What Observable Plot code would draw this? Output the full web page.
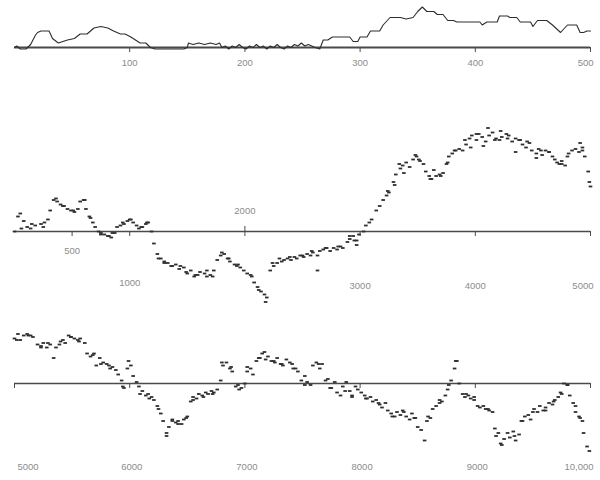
<!DOCTYPE html>
<html><head><meta charset="utf-8">
<script src="https://cdn.jsdelivr.net/npm/d3@7"></script>
<script src="https://cdn.jsdelivr.net/npm/@observablehq/plot@0.6"></script>
<style>
body{margin:0;background:#fff;}
#chart{width:600px;height:480px;overflow:hidden;}
#chart svg{display:block;}
</style></head><body><div id="chart"></div>
<script>
// ---- Top line: first 500 tossings (trial number, cumulative gain) ----
const topTrials = [0,2,5,10,14,18,20,23,30,33,38,42,46,52,57,63,69,75,81,86,92,96,101,105,109,114,118,122,130,135,140,147,150,151,155,160,165,170,175,178,180,183,186,189,192,195,198,201,204,207,210,213,216,219,222,225,228,231,234,237,240,243,246,249,252,255,258,261,265,268,272,276,284,291,294,298,300,306,309,317,320,326,335,340,346,350,354,358,364,367,372,376,381,384,404,406,410,419,421,428,430,436,439,441,448,450,454,462,467,474,480,488,491,494,497,500];
const topWalk = [0,1,-1,-1,2,8,10,11,11,6,3,4,5,6,9,9,13,14,13,11,9,9,7,5,3,3,0,-1,-1,-1,-1,-1,0,3,2,3,2,3,2,3,0,1,-1,1,0,2,0,-1,1,0,2,0,1,-1,1,0,2,0,-1,1,0,2,1,3,1,2,1,0,-1,5,5,7,7,7,4,4,7,7,11,11,15,20,20,19,20,24,27,24,24,22,22,18,18,17,17,15,17,17,21,21,20,20,17,17,17,14,18,18,15,10,15,15,10,10,11,11];
const topTicks = [100,200,300,400,500];

// ---- Middle line: trials 0 - 5000 ----
const midTrials = [0,30,50,80,110,140,180,230,250,290,310,340,370,400,430,460,490,520,550,570,600,620,650,680,700,730,750,780,820,840,870,890,920,950,980,1010,1030,1060,1080,1110,1140,1160,1190,1210,1240,1270,1300,1330,1360,1400,1430,1470,1500,1530,1560,1590,1610,1650,1670,1700,1730,1760,1790,1820,1850,1870,1910,1930,1960,1990,2020,2060,2080,2110,2140,2170,2190,2220,2250,2280,2320,2340,2370,2400,2430,2450,2480,2510,2540,2570,2590,2630,2650,2680,2710,2740,2770,2800,2830,2850,2890,2910,2940,2970,2990,3030,3050,3080,3100,3140,3170,3200,3230,3250,3290,3310,3350,3370,3400,3430,3460,3490,3510,3550,3570,3600,3620,3660,3690,3720,3750,3770,3800,3830,3860,3890,3920,3950,3970,4010,4030,4060,4090,4120,4150,4180,4210,4230,4270,4290,4320,4350,4380,4410,4440,4470,4490,4530,4550,4580,4610,4640,4670,4690,4730,4750,4780,4810,4840,4870,4900,4930,4950,4980,5000,2630,2970];
const midWalk = [0,10,12,7,3,2,4,5,3,8,14,21,20,18,17,15,14,13,15,20,21,15,10,6,3,0,-1,-2,-3,-4,-1,3,4,5,7,8,6,4,2,3,5,6,0,-8,-15,-18,-20,-21,-23,-22,-25,-24,-28,-26,-30,-29,-27,-28,-30,-29,-26,-19,-16,-15,-18,-20,-22,-23,-24,-26,-28,-30,-34,-37,-40,-42,-44,-26,-23,-21,-20,-19,-18,-19,-17,-18,-16,-17,-15,-16,-14,-16,-13,-12,-11,-13,-11,-12,-10,-11,-7,-5,-3,-6,-2,0,4,6,8,14,17,21,24,26,33,38,42,44,46,43,48,50,48,45,40,37,35,37,38,39,45,50,52,54,55,54,58,62,64,61,65,63,60,64,66,62,61,63,65,64,60,62,61,58,56,59,54,52,55,51,54,53,50,48,45,47,44,52,54,55,53,56,50,40,30,-26,-9];
// scattered neighbouring readings of the same record
const midScatterTrials = [60,150,260,360,420,510,610,660,750,810,850,940,1000,1100,1150,1250,1300,1370,1440,1490,1570,1670,1720,1800,1860,1940,2050,2120,2180,2240,2300,2390,2500,2580,2700,2810,2910,2950,3240,3300,3340,3380,3480,3520,3610,3640,3700,3760,3820,3910,3960,4010,4070,4110,4170,4220,4280,4350,4390,4450,4530,4570,4640,4710,4750,4800,4910,4930,4990];
const midScatterWalk = [2,5,6,22,17,14,21,9,-2,-3,-1,6,8,3,6,-18,-21,-23,-23,-27,-29,-26,-30,-14,-18,-22,-29,-39,-47,-21,-18,-17,-16,-13,-11,-10,-3,-6,27,31,45,39,51,47,35,41,37,46,54,61,56,65,57,69,61,67,62,53,61,60,49,54,53,46,45,50,59,54,33];
const midTicks = [500,1000,2000,3000,4000,5000];

// ---- Bottom line: trials 5000 - 10000 ----
const lowTrials = [5000,5030,5050,5080,5110,5140,5160,5200,5230,5250,5280,5310,5340,5360,5390,5420,5440,5470,5490,5520,5550,5570,5610,5630,5660,5690,5710,5740,5770,5800,5820,5850,5880,5900,5930,5950,5980,6010,6030,6060,6080,6110,6140,6160,6190,6210,6240,6270,6290,6320,6340,6370,6400,6420,6450,6470,6500,6530,6550,6580,6600,6630,6660,6680,6710,6730,6760,6790,6810,6840,6870,6890,6920,6940,6970,7000,7020,7050,7070,7100,7130,7150,7180,7200,7230,7260,7280,7310,7330,7360,7390,7410,7440,7460,7490,7520,7540,7570,7590,7620,7650,7670,7700,7720,7750,7780,7800,7830,7850,7880,7910,7930,7960,7980,8010,8040,8060,8090,8110,8140,8170,8190,8220,8240,8270,8300,8320,8350,8370,8400,8430,8450,8480,8500,8530,8560,8580,8610,8630,8660,8690,8710,8740,8760,8790,8820,8830,8860,8890,8910,8940,8960,8990,9020,9040,9070,9090,9120,9150,9170,9200,9220,9250,9280,9300,9330,9350,9380,9410,9430,9460,9480,9510,9540,9560,9590,9610,9640,9670,9690,9720,9740,9770,9800,9820,9850,9870,9900,9930,9940,9970];
const lowWalk = [30,33,29,32,33,32,31,26,25,27,24,26,17,24,26,29,27,32,31,30,29,30,27,20,18,20,12,17,14,13,12,11,9,6,2,-3,10,12,5,1,-2,-5,-8,-7,-9,-11,-15,-20,-25,-33,-29,-24,-26,-25,-27,-24,-22,-12,-9,-10,-7,-8,-6,-7,-5,-6,-4,2,12,14,10,8,-2,-1,-3,0,8,10,6,15,17,20,16,18,15,14,17,13,12,16,14,13,10,8,2,5,1,-1,12,14,10,13,2,3,-3,1,-6,-8,-2,1,-5,-8,-2,-4,-6,-8,-10,-9,-12,-11,-14,-16,-13,-18,-20,-22,-19,-21,-18,-22,-24,-20,-23,-29,-31,-38,-25,-23,-17,-15,-11,-12,-8,-4,2,10,15,0,-7,-9,-8,-10,-11,-15,-16,-15,-17,-18,-19,-30,-33,-40,-37,-33,-36,-32,-38,-34,-25,-22,-21,-24,-17,-19,-15,-18,-16,-13,-14,-11,-9,-6,0,-1,-8,-13,-19,-22,-25,-33,-42];
const lowScatterTrials = [5020,5120,5230,5290,5400,5490,5560,5680,5750,5830,5940,5990,6090,6170,6250,6320,6370,6420,6490,6550,6640,6720,6800,6880,6950,7020,7120,7170,7250,7320,7420,7520,7640,7740,7870,7930,8050,8160,8280,8380,8470,8590,8690,8770,8840,8920,8990,9110,9180,9230,9340,9400,9500,9610,9680,9750,9800,9870,9910,9990];
const lowScatterWalk = [29,32,24,27,28,31,28,19,13,10,-2,15,-7,-10,-17,-35,-25,-27,-23,-11,-9,-7,14,11,-4,11,17,21,15,13,10,-1,13,-3,-5,-9,-10,-13,-22,-19,-23,-22,-13,-1,15,-7,-9,-17,-35,-41,-35,-25,-19,-18,-12,-7,-1,-15,-23,-45];
const lowTicks = [5000,6000,7000,8000,9000,10000];

// ---- build tables ----
const rows = (ns, ss) => ns.map((n, i) => ({n, s: ss[i]}));
const topData = rows(topTrials, topWalk);
const midData = rows(midTrials, midWalk).concat(rows(midScatterTrials, midScatterWalk));
const lowData = rows(lowTrials, lowWalk).concat(rows(lowScatterTrials, lowScatterWalk));

const ink = "#2e2e2e";
const axisInk = "#4a4a4a";
const labelInk = "#8c8c8c";
const plotStyle = {fontFamily: '"Liberation Sans Narrow","Liberation Sans",sans-serif', fontSize: "9.5px", background: "#fff", overflow: "visible"};
const fmt = d => d >= 10000 ? d3.format(",")(d) : String(d);
const pxPerUnit = 1.5;
// short horizontal dash, as the printed record uses
const dash = {draw(context) { context.rect(-1.8, -0.9, 3.6, 1.8); }};

function panel(height, axisY, xDomain, marks) {
  return Plot.plot({
    width: 600, height,
    marginTop: 0, marginLeft: 14, marginRight: 10, marginBottom: height - axisY,
    style: plotStyle,
    x: {domain: xDomain, axis: null},
    y: {domain: [0, axisY / pxPerUnit], axis: null},
    marks
  });
}
const textOpts = (dy, extra = {}) => ({x: d => d, text: fmt, frameAnchor: "bottom", dy, fill: labelInk, ...extra});

// Top panel
const topPanel = panel(80, 47, [0, 500], [
  Plot.ruleY([0], {stroke: axisInk, strokeWidth: 1.8}),
  Plot.ruleX(topTicks, {x: d => d, y1: 0, y2: 0, insetBottom: -5, stroke: axisInk}),
  Plot.line(topData, {x: "n", y: "s", stroke: ink, strokeWidth: 1.1}),
  Plot.text(topTicks.filter(d => d < 500), textOpts(18)),
  Plot.text(topTicks.filter(d => d === 500), textOpts(18, {textAnchor: "end", dx: 3}))
]);

// Middle panel
const midPanel = panel(220, 151, [0, 5000], [
  Plot.ruleY([0], {stroke: axisInk, strokeWidth: 1.5}),
  Plot.ruleX(midTicks, {x: d => d, y1: 0, y2: 0, insetBottom: -5, stroke: axisInk}),
  Plot.ruleX(midTicks.filter(d => d === 2000), {x: d => d, y1: 0, y2: 0, insetTop: -5, stroke: axisInk}),
  Plot.dot(midData, {x: "n", y: "s", symbol: dash, fill: ink, stroke: null}),
  Plot.text(midTicks.filter(d => d === 500), textOpts(22)),
  Plot.text(midTicks.filter(d => d === 1000), textOpts(54)),
  Plot.text(midTicks.filter(d => d === 2000), textOpts(-18)),
  Plot.text(midTicks.filter(d => d === 3000 || d === 4000), textOpts(57)),
  Plot.text(midTicks.filter(d => d === 5000), textOpts(57, {textAnchor: "end", dx: 3}))
]);

// Bottom panel
const lowPanel = panel(180, 83, [5000, 10000], [
  Plot.ruleY([0], {stroke: axisInk, strokeWidth: 1.5}),
  Plot.ruleX(lowTicks, {x: d => d, y1: 0, y2: 0, insetBottom: -5, stroke: axisInk}),
  Plot.dot(lowData, {x: "n", y: "s", symbol: dash, fill: ink, stroke: null}),
  Plot.text(lowTicks.filter(d => d === 5000), textOpts(86, {textAnchor: "start", dx: 3})),
  Plot.text(lowTicks.filter(d => d > 5000 && d < 10000), textOpts(86, {dx: 2})),
  Plot.text(lowTicks.filter(d => d === 10000), textOpts(86, {textAnchor: "end", dx: 3}))
]);

document.getElementById("chart").append(topPanel, midPanel, lowPanel);
</script>
</body></html>
